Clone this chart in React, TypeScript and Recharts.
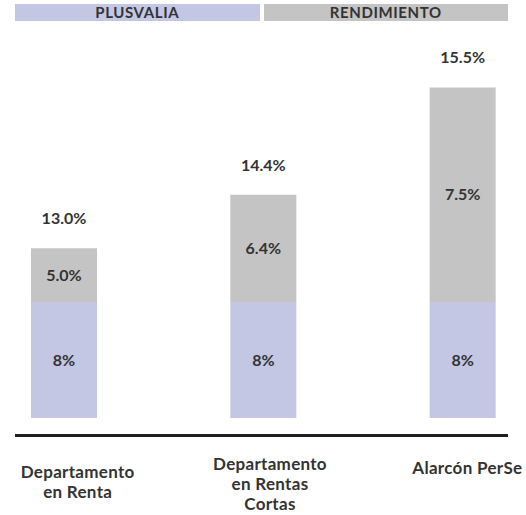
import React from 'react'
import { BarChart, Bar, XAxis, YAxis, LabelList, Legend } from 'recharts'

// categories, split the way the picture breaks them
const categories = ['Departamento en Renta', 'Departamento en Rentas Cortas', 'Alarcón PerSe']
const categoryLines = [['Departamento', 'en Renta'], ['Departamento', 'en Rentas', 'Cortas'], ['Alarcón PerSe']]

// printed values
const plusvalia = [8, 8, 8]
const rendimiento = [5.0, 6.4, 7.5]
const totals = [13.0, 14.4, 15.5]

// drawn heights (the original is not to scale), in units where plusvalia = 8
const plusvaliaBar = [8, 8, 8]
const rendimientoBar = [3.7, 7.4, 14.8]

const BLUE = '#c3c7e4'
const GREY = '#c4c4c4'
const TEXT = '#333333'
const FONT = 'Lato, "Open Sans", sans-serif'

const data = categories.map((name, i) => ({
  name,
  plus: plusvaliaBar[i],
  rend: rendimientoBar[i],
  plusLabel: `${plusvalia[i]}%`,
  rendLabel: `${rendimiento[i].toFixed(1)}%`,
  totalLabel: `${totals[i].toFixed(1)}%`
}))

const styles: Record<string, React.CSSProperties> = {
  wrap: { position: 'absolute', left: 0, top: 0, width: 526, height: 515, background: '#fff' },
  baseline: { position: 'absolute', left: 15, top: 434, width: 493, height: 3, background: '#1e1e1e' },
  legendRow: { display: 'flex', gap: 4, width: 493 },
  legendBox: {
    flex: 1,
    height: 17,
    lineHeight: '17px',
    textAlign: 'center',
    fontFamily: FONT,
    fontWeight: 700,
    fontSize: 15,
    color: TEXT,
    letterSpacing: 0.6
  }
}

// label placement under the axis, per category (the original is not centred)
const TICK_DY = [60, 52, 56]
const TICK_DX = [14, 7, 5]

function CategoryTick(props: any) {
  const { x, y, index } = props
  const lines = categoryLines[index] || []
  const cx = x + TICK_DX[index]
  return (
    <text x={cx} y={y + TICK_DY[index]} textAnchor="middle" fill={TEXT}
      style={{ fontFamily: FONT, fontWeight: 700, fontSize: 17, letterSpacing: 0.3 }}>
      {lines.map((l, i) => (
        <tspan key={i} x={cx} dy={i === 0 ? 0 : 20}>{l}</tspan>
      ))}
    </text>
  )
}

function HeaderLegend(props: any) {
  const items = props.payload || []
  return (
    <div style={styles.legendRow}>
      {items.map((it: any) => (
        <div key={it.value} style={{ ...styles.legendBox, background: it.color }}>
          {String(it.value).toUpperCase()}
        </div>
      ))}
    </div>
  )
}

const labelStyle = { fontFamily: FONT, fontWeight: 700, fontSize: 16, fill: TEXT }

export default function App() {
  return (
    <div style={styles.wrap}>
      <BarChart width={526} height={515} data={data}
        margin={{ top: 41, right: -36, bottom: 37, left: -36 }}>
        <XAxis dataKey="name" height={60} axisLine={false} tickLine={false}
          tickSize={0} tickMargin={0} tick={<CategoryTick />} interval={0} />
        <YAxis hide domain={[0, 26]} />
        <Legend verticalAlign="middle" align="center" content={<HeaderLegend />}
          wrapperStyle={{ top: 4, left: 15, width: 493 }} />
        <Bar dataKey="plus" name="Plusvalia" stackId="a" fill={BLUE} barSize={66} isAnimationActive={false}>
          <LabelList dataKey="plusLabel" position="center" style={labelStyle} />
        </Bar>
        <Bar dataKey="rend" name="Rendimiento" stackId="a" fill={GREY} barSize={66} isAnimationActive={false}>
          <LabelList dataKey="rendLabel" position="center" style={labelStyle} />
          <LabelList dataKey="totalLabel" position="top" offset={24} style={labelStyle} />
        </Bar>
      </BarChart>
      <div style={styles.baseline} />
    </div>
  )
}
